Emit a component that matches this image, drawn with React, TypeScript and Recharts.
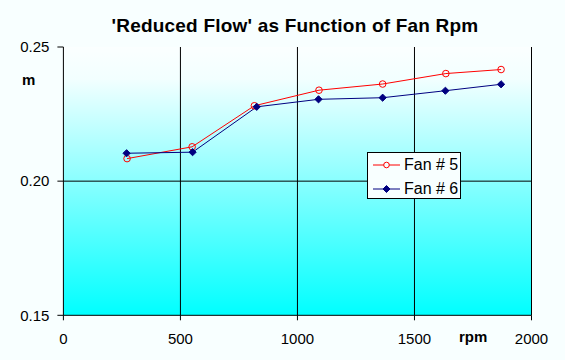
import React from 'react';
import { LineChart, Line, XAxis, YAxis, ReferenceLine, ReferenceArea } from 'recharts';

const rpm5 = [272, 550, 816, 1092, 1364, 1634, 1870];
const fan5 = [0.2084, 0.2128, 0.2281, 0.2339, 0.2362, 0.2401, 0.2416];
const rpm6 = [270, 552, 826, 1090, 1364, 1632, 1870];
const fan6 = [0.2104, 0.2108, 0.2277, 0.2305, 0.2311, 0.2337, 0.2361];
const xTicks = [0, 500, 1000, 1500, 2000];
const yTicks = [0.15, 0.2, 0.25];
const xGrid = [500, 1000, 1500, 2000];
const yGrid = [0.2];
const seriesNames = ['Fan # 5', 'Fan # 6'];

const data5 = rpm5.map((r, i) => ({ rpm: r, flow: fan5[i] }));
const data6 = rpm6.map((r, i) => ({ rpm: r, flow: fan6[i] }));

const FONT = '"Liberation Sans", Arial, sans-serif';
const BG = '#f8ffff';
const RED = '#ff0000';
const BLUE = '#000080';

const CircleDot = (props: any) => {
  const { cx, cy } = props;
  if (cx == null || cy == null) return null;
  return <circle key={`c${cx}`} cx={cx} cy={cy} r={3.3} fill="none" stroke={RED} strokeWidth={1} />;
};

const DiamondDot = (props: any) => {
  const { cx, cy } = props;
  if (cx == null || cy == null) return null;
  const s = 3.6;
  return (
    <polygon
      key={`d${cx}`}
      points={`${cx},${cy - s} ${cx + s},${cy} ${cx},${cy + s} ${cx - s},${cy}`}
      fill={BLUE}
      stroke={BLUE}
      strokeWidth={1}
    />
  );
};

const LegendBox = () => (
  <div
    style={{
      position: 'absolute',
      left: 367,
      top: 152,
      width: 94,
      height: 47,
      boxSizing: 'border-box',
      border: '1px solid #000',
      background: BG,
      fontFamily: FONT,
      fontSize: 16,
      color: '#000',
      zIndex: 2,
    }}
  >
    {seriesNames.map((name, i) => (
      <div key={name} style={{ position: 'relative', height: 23, marginTop: i === 0 ? 0 : 1 }}>
        <svg width={30} height={23} style={{ position: 'absolute', left: 4, top: 0 }}>
          <line x1={1} y1={12} x2={28} y2={12} stroke={i === 0 ? RED : BLUE} strokeWidth={1} />
          {i === 0 ? (
            <circle cx={14.5} cy={12} r={2.8} fill={BG} stroke={RED} />
          ) : (
            <polygon points="14.5,8.5 18,12 14.5,15.5 11,12" fill={BLUE} stroke={BLUE} />
          )}
        </svg>
        <span style={{ position: 'absolute', left: 36, top: 3, lineHeight: '18px' }}>{name}</span>
      </div>
    ))}
  </div>
);

export default function App() {
  return (
    <div
      style={{
        position: 'absolute',
        left: 0,
        top: 0,
        width: 565,
        height: 360,
        background: BG,
        fontFamily: FONT,
        overflow: 'hidden',
      }}
    >
      <div
        style={{
          position: 'absolute',
          left: 0,
          width: 565,
          top: 15,
          textAlign: 'center',
          fontSize: 19,
          fontWeight: 'bold',
          color: '#000',
          paddingLeft: 25,
          boxSizing: 'border-box',
          lineHeight: '22px',
          letterSpacing: 0.2,
          whiteSpace: 'nowrap',
        }}
      >
        'Reduced Flow' as Function of Fan Rpm
      </div>
      <div
        style={{
          position: 'absolute',
          left: 22,
          top: 71,
          fontSize: 15,
          fontWeight: 'bold',
          lineHeight: '18px',
          color: '#000',
        }}
      >
        m
      </div>
      <div
        style={{
          position: 'absolute',
          left: 459,
          top: 328,
          fontSize: 15,
          fontWeight: 'bold',
          lineHeight: '18px',
          color: '#000',
          zIndex: 2,
        }}
      >
        rpm
      </div>
      <LineChart
        width={565}
        height={360}
        margin={{ top: 47, right: 33.5, bottom: 0, left: 0 }}
        style={{ position: 'absolute', left: 0, top: 0 }}
      >
        <defs>
          <linearGradient id="plotGrad" x1="0" y1="0" x2="0" y2="1">
            <stop offset="0" stopColor="#fbffff" />
            <stop offset="0.12" stopColor="#f2ffff" />
            <stop offset="1" stopColor="#00ffff" />
          </linearGradient>
        </defs>
        <XAxis
          type="number"
          dataKey="rpm"
          domain={[0, 2000]}
          ticks={xTicks}
          interval={0}
          height={44.7}
          axisLine={{ stroke: '#000' }}
          tickLine={{ stroke: '#000' }}
          tickSize={5}
          tickMargin={13}
          tick={{ fill: '#000', fontSize: 15, fontFamily: FONT }}
          allowDataOverflow
        />
        <YAxis
          type="number"
          domain={[0.15, 0.25]}
          ticks={yTicks}
          interval={0}
          width={63.4}
          axisLine={{ stroke: '#000' }}
          tickLine={{ stroke: '#000' }}
          tickSize={6}
          tickMargin={8}
          tickFormatter={(v: number) => v.toFixed(2)}
          tick={{ fill: '#000', fontSize: 15, fontFamily: FONT }}
          allowDataOverflow
        />
        <ReferenceArea
          x1={0}
          x2={2000}
          y1={0.15}
          y2={0.25}
          fill="url(#plotGrad)"
          fillOpacity={1}
          stroke="none"
          ifOverflow="visible"
        />
        {xGrid.map((v) => (
          <ReferenceLine key={`x${v}`} x={v} stroke="#000" strokeWidth={1} ifOverflow="visible" />
        ))}
        {yGrid.map((v) => (
          <ReferenceLine key={`y${v}`} y={v} stroke="#000" strokeWidth={1} ifOverflow="visible" />
        ))}
        <Line
          data={data5}
          dataKey="flow"
          name={seriesNames[0]}
          type="linear"
          stroke={RED}
          strokeWidth={1}
          dot={<CircleDot />}
          activeDot={false}
          isAnimationActive={false}
        />
        <Line
          data={data6}
          dataKey="flow"
          name={seriesNames[1]}
          type="linear"
          stroke={BLUE}
          strokeWidth={1}
          dot={<DiamondDot />}
          activeDot={false}
          isAnimationActive={false}
        />
      </LineChart>
      <LegendBox />
    </div>
  );
}
